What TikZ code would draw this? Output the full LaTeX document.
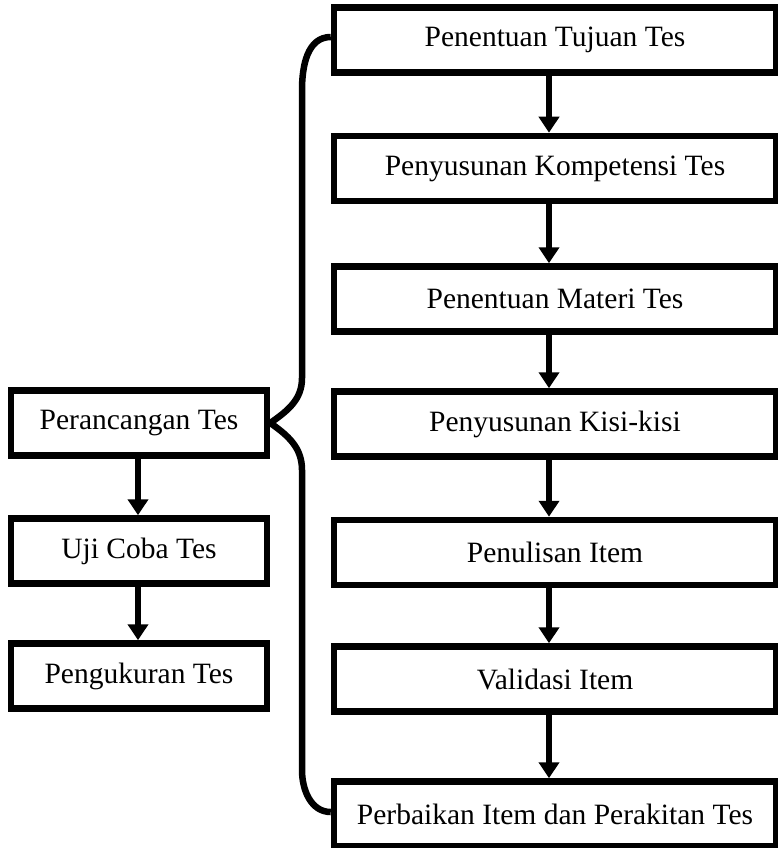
\documentclass[tikz,border=0pt]{standalone}
\usepackage{fontspec}
\setmainfont{Liberation Serif}
\usepackage{tikz}
\usetikzlibrary{arrows.meta}

\begin{document}
\begin{tikzpicture}[
  x=1pt, y=-1pt,
  box/.style={draw, line width=6.5pt, fill=white, minimum height=65pt,
    inner sep=2pt, font=\fontsize{29.5}{34}\selectfont},
  rbox/.style={box, minimum width=442pt},
  lbox/.style={box, minimum width=256pt},
  flow/.style={-{Triangle[length=16pt, width=20pt]}, line width=5.5pt},
  brace/.style={line width=6.5pt}
]
  \useasboundingbox (0,0) rectangle (778,848);
  % Right column: steps of test design
  \foreach \i/\y/\t in {
    1/40/Penentuan Tujuan Tes, 2/168.5/Penyusunan Kompetensi Tes,
    3/299/Penentuan Materi Tes, 4/424/Penyusunan Kisi-kisi,
    5/552.5/Penulisan Item, 6/679/Validasi Item,
    7/814/Perbaikan Item dan Perakitan Tes
  }{
    \node[rbox] (r\i) at (555,\y) {\t};
  }
  \foreach \a/\b in {1/2, 2/3, 3/4, 4/5, 5/6, 6/7}
    \draw[flow] ([xshift=-6pt]r\a.south) -- ([xshift=-6pt]r\b.north);
  % Left column
  \node[lbox] (rancang) at (139,423) {Perancangan Tes};
  \node[lbox] (ujicoba) at (139,551) {Uji Coba Tes};
  \node[lbox] (ukur) at (139,676) {Pengukuran Tes};
  \draw[flow] ([xshift=-1pt]rancang.south) -- ([xshift=-1pt]ujicoba.north);
  \draw[flow] ([xshift=-1pt]ujicoba.south) -- ([xshift=-1pt]ukur.north);
  % Brace
  \draw[brace] ([yshift=3pt]r1.west) to[out=180, in=90] (302,90) -- (302,378)
    to[out=-90, in=35] (rancang.east)
    to[out=-35, in=90] (302,470) -- (302,770)
    to[out=-90, in=180] ([yshift=2pt]r7.west);
\end{tikzpicture}
\end{document}
